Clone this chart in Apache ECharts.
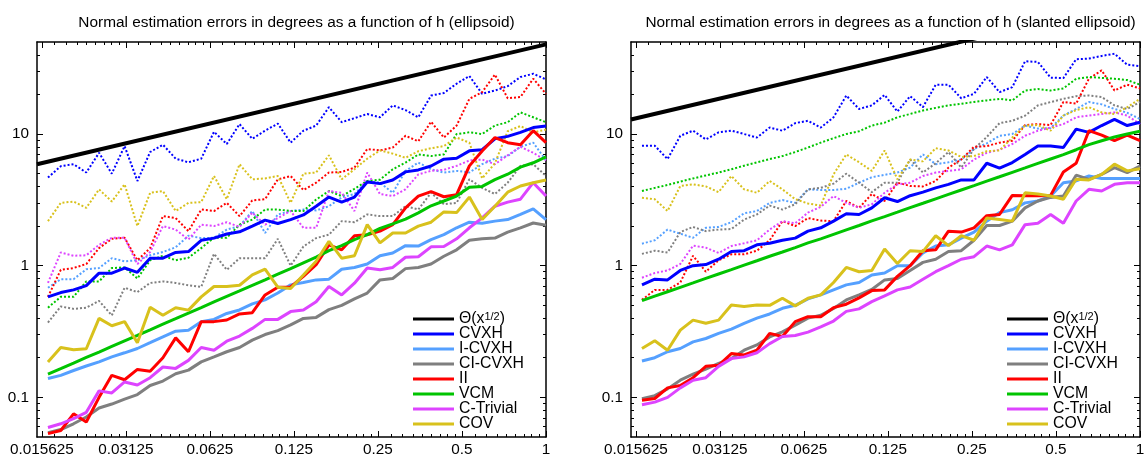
<!DOCTYPE html>
<html><head><meta charset="utf-8">
<script src="https://cdn.jsdelivr.net/npm/echarts@6/dist/echarts.min.js"></script>
<style>html,body{margin:0;padding:0;background:#fff}#c{width:1146px;height:462px}</style>
</head><body><div id="c"></div>
<script>
// ---------- data ----------
const H = [0.01642, 0.01825, 0.02028, 0.02253, 0.02503, 0.02781, 0.03090, 0.03434, 0.03815, 0.04239,
  0.04710, 0.05233, 0.05815, 0.06461, 0.07179, 0.07977, 0.08863, 0.09848, 0.1094, 0.1216,
  0.1351, 0.1501, 0.1668, 0.1853, 0.2059, 0.2288, 0.2542, 0.2824, 0.3138, 0.3487,
  0.3874, 0.4305, 0.4783, 0.5314, 0.5905, 0.6561, 0.729, 0.81, 0.9, 1];
const X_TICKS = [0.015625, 0.03125, 0.0625, 0.125, 0.25, 0.5, 1];
const Y_TICKS = [0.1, 1, 10];
const NAMES = ['CVXH', 'I-CVXH', 'CI-CVXH', 'II', 'VCM', 'C-Trivial', 'COV'];
const COLORS = ['#0000ff', '#55a0ff', '#7f7f7f', '#ff0000', '#00c400', '#dd44ff', '#d8c11c'];
const TITLES = ['Normal estimation errors in degrees as a function of h (ellipsoid)',
  'Normal estimation errors in degrees as a function of h (slanted ellipsoid)'];
const THETA_X = [0.015, 1];
const THETA_LEFT = [5.9, 48];
const THETA_RIGHT = [12.9, 105];

// left panel (ellipsoid), solid lines
const L_CVXH = [0.58, 0.625, 0.655, 0.706, 0.878, 0.878, 0.96, 0.89, 1.14, 1.14, 1.26, 1.28, 1.56, 1.62, 1.74, 1.81, 2.0, 2.22, 2.09, 2.24, 2.43, 2.83, 3.32, 3.04, 3.32, 4.32, 4.2, 4.48, 5.16, 5.34, 5.72, 6.44, 6.55, 7.45, 7.6, 9.2, 9.6, 10.3, 11.2, 11.5];
const L_ICVXH = [0.139, 0.147, 0.16, 0.173, 0.186, 0.203, 0.218, 0.235, 0.26, 0.288, 0.318, 0.324, 0.376, 0.391, 0.434, 0.461, 0.513, 0.55, 0.62, 0.715, 0.745, 0.78, 0.79, 0.94, 0.97, 1.03, 1.19, 1.25, 1.42, 1.41, 1.58, 1.72, 1.94, 2.14, 2.1, 2.18, 2.24, 2.45, 2.7, 2.24];
const L_CICVXH = [0.054, 0.057, 0.063, 0.071, 0.083, 0.089, 0.097, 0.105, 0.123, 0.133, 0.151, 0.161, 0.186, 0.203, 0.222, 0.239, 0.272, 0.3, 0.321, 0.355, 0.398, 0.405, 0.464, 0.5, 0.56, 0.62, 0.78, 0.8, 0.95, 0.97, 1.03, 1.18, 1.32, 1.56, 1.6, 1.62, 1.8, 1.94, 2.11, 2.03];
const L_II = [0.053, 0.056, 0.075, 0.065, 0.1, 0.147, 0.136, 0.163, 0.158, 0.2, 0.283, 0.222, 0.376, 0.376, 0.387, 0.43, 0.44, 0.6, 0.687, 0.69, 0.83, 1.02, 1.44, 1.32, 1.69, 1.72, 1.83, 2.05, 2.75, 3.38, 3.65, 3.34, 3.46, 5.73, 7.44, 9.4, 8.6, 8.3, 10.6, 8.6];
const L_VCM = [0.150, 0.165, 0.182, 0.201, 0.221, 0.244, 0.269, 0.296, 0.326, 0.360, 0.396, 0.437, 0.481, 0.531, 0.585, 0.644, 0.710, 0.782, 0.862, 0.950, 1.05, 1.16, 1.30, 1.42, 1.58, 1.72, 1.92, 2.08, 2.26, 2.52, 2.85, 3.1, 3.38, 3.95, 4.0, 4.5, 4.95, 5.6, 6.05, 6.7];
const L_CTRIV = [0.059, 0.063, 0.069, 0.077, 0.112, 0.108, 0.131, 0.124, 0.141, 0.17, 0.166, 0.191, 0.239, 0.228, 0.267, 0.292, 0.334, 0.391, 0.391, 0.448, 0.46, 0.533, 0.695, 0.6, 0.736, 0.96, 0.93, 0.97, 1.16, 1.17, 1.39, 1.4, 1.6, 1.94, 2.31, 2.83, 3.04, 3.2, 4.27, 3.38];
const L_COV = [0.186, 0.239, 0.23, 0.234, 0.398, 0.35, 0.376, 0.26, 0.483, 0.42, 0.48, 0.46, 0.58, 0.695, 0.695, 0.71, 0.853, 0.94, 0.687, 0.67, 0.85, 1.08, 1.53, 1.14, 1.19, 2.05, 1.49, 1.77, 1.77, 2.0, 2.14, 2.56, 2.53, 3.32, 2.24, 2.83, 3.62, 4.03, 4.27, 4.48];
// left panel, dotted lines
const L_CVXH_D = [4.67, 5.7, 5.9, 5.1, 7.2, 5.0, 8.1, 4.4, 7.3, 8.3, 6.5, 6.1, 6.5, 10.4, 8.4, 11.9, 9.2, 10.6, 12, 8.6, 10.6, 11.6, 16, 12.3, 13.2, 14.2, 13.4, 16.5, 15.2, 13.4, 19.6, 20.5, 24.1, 27.6, 20.2, 21.4, 23.1, 27.1, 28.7, 26];
const L_ICVXH_D = [0.68, 0.79, 0.79, 0.94, 0.96, 1.14, 1.08, 1.1, 1.2, 1.27, 1.38, 1.69, 1.62, 1.63, 1.88, 2.0, 2.6, 1.77, 2.45, 2.6, 2.67, 2.63, 2.83, 3.3, 3.5, 4.4, 4.27, 3.58, 5.25, 6.07, 5.4, 5.1, 5.25, 5.1, 5.9, 6.5, 6.8, 8.0, 8.6, 6.3];
const L_CICVXH_D = [0.37, 0.49, 0.47, 0.48, 0.54, 0.42, 0.68, 0.63, 0.74, 0.76, 0.74, 0.71, 0.69, 1.23, 0.93, 1.14, 1.14, 1.14, 1.6, 1.0, 1.4, 1.62, 1.72, 2.18, 2.14, 2.45, 2.38, 2.38, 2.83, 2.67, 3.58, 2.93, 3.0, 4.53, 3.9, 3.5, 4.27, 5.73, 5.9, 4.8];
const L_II_D = [0.58, 0.93, 0.96, 1.03, 1.36, 1.6, 1.63, 1.1, 1.36, 2.38, 2.3, 1.83, 2.67, 2.6, 3.0, 2.38, 3.13, 3.2, 4.53, 4.8, 3.76, 4.27, 5.1, 5.15, 5.56, 7.7, 7.5, 7.9, 9.7, 8.8, 12.4, 9.4, 11.6, 18.5, 20.8, 28.3, 18.7, 19.1, 26.3, 20.2];
const L_VCM_D = [0.48, 0.58, 0.58, 0.76, 0.76, 0.96, 0.97, 0.8, 1.1, 1.19, 1.1, 1.15, 1.36, 1.63, 1.63, 2.05, 2.24, 2.67, 2.67, 2.6, 2.6, 3.18, 3.69, 3.38, 3.84, 4.4, 4.5, 5.4, 6.07, 7.0, 6.8, 7.0, 10, 10.3, 10, 11.6, 12.3, 14.6, 13.4, 12.3];
const L_CTRIV_D = [0.74, 1.26, 1.19, 1.2, 1.44, 1.63, 1.63, 1.03, 1.27, 2.0, 1.88, 1.58, 2.05, 2.0, 2.14, 1.97, 2.53, 2.05, 2.3, 2.6, 1.94, 1.94, 3.69, 3.58, 2.6, 5.1, 3.5, 3.38, 3.8, 4.94, 5.25, 5.35, 5.73, 6.3, 6.4, 5.9, 6.9, 8.0, 7.2, 6.3];
const L_COV_D = [2.18, 3.0, 3.07, 2.75, 3.8, 3.07, 4.15, 2.0, 3.58, 3.69, 2.6, 3.0, 3.04, 4.8, 3.2, 5.9, 4.53, 4.6, 4.8, 3.0, 5.0, 5.1, 6.9, 4.53, 5.4, 6.5, 7.5, 7.1, 6.6, 7.4, 7.8, 8.1, 9.4, 8.6, 4.6, 6.0, 10.5, 11.5, 10.3, 10.8];

// right panel (slanted ellipsoid), solid lines
const R_CVXH = [0.715, 0.79, 0.78, 0.92, 1.0, 1.02, 1.12, 1.28, 1.3, 1.44, 1.48, 1.56, 1.62, 1.83, 1.94, 2.18, 2.48, 2.45, 2.75, 3.28, 3.07, 3.4, 3.62, 3.9, 4.15, 4.48, 4.48, 6.0, 5.5, 6.07, 7.0, 8.1, 8.1, 7.9, 10.9, 10.3, 11.6, 12.9, 11.6, 12.3];
const R_ICVXH = [0.189, 0.2, 0.222, 0.235, 0.264, 0.28, 0.306, 0.33, 0.365, 0.4, 0.43, 0.475, 0.5, 0.56, 0.6, 0.655, 0.715, 0.745, 0.85, 0.88, 1.0, 1.0, 1.25, 1.41, 1.44, 1.62, 1.8, 2.18, 2.53, 2.66, 3.0, 3.1, 3.38, 4.27, 4.4, 4.8, 4.6, 4.6, 4.6, 4.6];
const R_CICVXH = [0.0975, 0.103, 0.116, 0.135, 0.15, 0.164, 0.181, 0.197, 0.228, 0.25, 0.288, 0.314, 0.354, 0.4, 0.42, 0.474, 0.55, 0.6, 0.66, 0.78, 0.8, 0.92, 1.06, 1.12, 1.28, 1.3, 1.56, 2.02, 2.02, 2.18, 2.75, 3.1, 3.3, 3.38, 4.87, 4.53, 4.94, 5.56, 5.1, 5.7];
const R_II = [0.095, 0.098, 0.118, 0.123, 0.141, 0.172, 0.175, 0.215, 0.21, 0.228, 0.306, 0.29, 0.376, 0.41, 0.41, 0.48, 0.51, 0.57, 0.647, 0.655, 0.83, 1.0, 1.3, 1.32, 1.83, 1.8, 1.94, 2.4, 2.45, 3.42, 3.4, 3.4, 3.42, 5.15, 6.0, 10.6, 9.8, 8.9, 9.8, 8.9];
const R_VCM = [0.543, 0.587, 0.634, 0.685, 0.740, 0.800, 0.865, 0.934, 1.01, 1.09, 1.18, 1.27, 1.37, 1.49, 1.60, 1.73, 1.87, 2.02, 2.19, 2.36, 2.55, 2.76, 2.98, 3.22, 3.48, 3.76, 4.06, 4.39, 4.74, 5.12, 5.53, 5.98, 6.46, 6.98, 7.6, 8.3, 8.9, 9.5, 10.0, 10.5];
const R_CTRIV = [0.088, 0.092, 0.1, 0.118, 0.135, 0.141, 0.172, 0.197, 0.203, 0.218, 0.256, 0.29, 0.295, 0.313, 0.343, 0.38, 0.45, 0.47, 0.533, 0.59, 0.655, 0.69, 0.79, 0.9, 1.0, 1.12, 1.17, 1.41, 1.32, 1.44, 2.05, 2.1, 2.45, 2.1, 3.1, 3.8, 3.69, 4.15, 4.27, 4.27];
const R_COV = [0.235, 0.269, 0.228, 0.324, 0.386, 0.365, 0.386, 0.503, 0.49, 0.503, 0.5, 0.566, 0.495, 0.566, 0.6, 0.745, 0.97, 0.9, 0.92, 1.34, 1.04, 1.3, 1.28, 1.69, 1.42, 1.69, 1.56, 2.3, 2.24, 2.18, 3.58, 3.5, 3.38, 3.2, 4.53, 4.48, 4.94, 5.9, 5.25, 5.45];
// right panel, dotted lines
const R_CVXH_D = [8.15, 8.15, 6.45, 9.7, 10.6, 9.1, 10.3, 10.6, 10, 9.4, 11.2, 10.6, 12.1, 12.6, 11.2, 13.4, 19.6, 15.5, 16.5, 19.8, 14.8, 19.4, 16, 23.7, 23.7, 18.7, 20.2, 27.1, 20.8, 22.7, 35.7, 35.3, 26.8, 26.6, 37, 37.4, 39.2, 40.7, 33.6, 32.8];
const R_ICVXH_D = [1.47, 1.56, 1.88, 1.75, 1.63, 1.94, 1.97, 2.14, 2.5, 2.6, 3.0, 3.15, 3.0, 3.8, 3.76, 3.76, 3.84, 4.27, 4.7, 4.9, 5.1, 5.56, 7.0, 5.9, 6.1, 6.4, 7.7, 8.5, 9.7, 10, 11.6, 11, 11.1, 13.8, 15.5, 17.5, 16.8, 15.5, 14.5, 13.0];
const R_CICVXH_D = [1.23, 1.3, 1.26, 1.8, 1.97, 1.83, 1.88, 1.9, 2.24, 2.45, 2.86, 2.67, 2.93, 3.8, 3.9, 4.2, 5.0, 4.27, 3.62, 4.27, 4.27, 6.4, 5.1, 6.0, 7.3, 5.56, 7.7, 9.5, 12.1, 12.6, 13.8, 16.5, 17.5, 18.5, 19.4, 19.6, 19.1, 16.5, 15.5, 17.5];
const R_II_D = [0.55, 0.655, 0.655, 0.745, 1.19, 0.9, 1.1, 1.22, 1.22, 1.3, 1.56, 2.18, 2.0, 2.3, 2.2, 2.18, 3.1, 2.75, 3.5, 3.1, 4.27, 4.03, 4.0, 4.4, 5.56, 6.4, 8.0, 8.1, 8.6, 8.9, 11.7, 11.9, 11.7, 17.5, 17, 26.3, 30.5, 21.4, 23.7, 22.2];
const R_VCM_D = [3.69, 3.9, 4.1, 4.35, 4.6, 4.85, 5.1, 5.4, 5.75, 6.1, 6.45, 6.8, 7.3, 7.9, 8.6, 9.3, 10, 10.5, 11.6, 12.2, 13.4, 14.2, 15.1, 15.8, 16.5, 17, 17.5, 18, 18.5, 18, 21.4, 22, 21.4, 22.2, 26.3, 27.1, 26.7, 26.3, 25.7, 23.7];
const R_CTRIV_D = [0.81, 0.88, 0.92, 1.03, 1.42, 1.37, 1.25, 1.41, 1.48, 1.56, 1.88, 2.18, 2.1, 2.53, 2.8, 3.38, 3.0, 2.75, 2.93, 3.58, 4.15, 4.27, 4.8, 5.1, 5.25, 5.4, 6.4, 7.2, 7.6, 8.4, 9.7, 10.6, 11.2, 11.9, 13.4, 13.8, 14.2, 14.6, 13.8, 11.9];
const R_COV_D = [3.28, 3.2, 2.6, 4.03, 4.15, 4.0, 3.62, 4.8, 3.8, 3.58, 4.4, 3.8, 3.2, 2.97, 2.86, 4.94, 7.0, 6.1, 5.25, 7.5, 4.53, 6.4, 6.2, 7.8, 7.5, 6.7, 6.8, 7.4, 7.5, 9.4, 11.6, 11.7, 10.6, 13.8, 15.2, 16, 14.6, 14.2, 16, 18.5];

// ---------- build ----------
const FONT = '"Liberation Sans", Arial, Helvetica, sans-serif';
const PANELS = [
  { solid: [L_CVXH, L_ICVXH, L_CICVXH, L_II, L_VCM, L_CTRIV, L_COV],
    dotted: [L_CVXH_D, L_ICVXH_D, L_CICVXH_D, L_II_D, L_VCM_D, L_CTRIV_D, L_COV_D], theta: THETA_LEFT },
  { solid: [R_CVXH, R_ICVXH, R_CICVXH, R_II, R_VCM, R_CTRIV, R_COV],
    dotted: [R_CVXH_D, R_ICVXH_D, R_CICVXH_D, R_II_D, R_VCM_D, R_CTRIV_D, R_COV_D], theta: THETA_RIGHT }
];
const GRID_LEFT = [37, 631];
const GRID_TOP = 42, GRID_W = 509, GRID_H = 395;

const X_MINOR = [];
[0.0078125, 0.015625, 0.03125, 0.0625, 0.125, 0.25, 0.5].forEach(m => {
  for (let j = 1; j <= 8; j++) { const v = m * (1 + j / 9); if (v > 0.015 && v < 1) X_MINOR.push(v); }
});
const Y_MINOR = [];
[0.01, 0.1, 1, 10].forEach(d => {
  for (let j = 2; j <= 9; j++) { const v = d * j; if (v > 0.05 && v < 50) Y_MINOR.push(v); }
});

const lbl = { fontSize: 15.3, color: '#000', fontFamily: FONT };
function mkX(gi, pos, major) {
  return {
    type: 'log', logBase: 2, min: 0.015, max: 1, gridIndex: gi, position: pos, silent: true,
    splitLine: { show: false },
    axisLine: { show: major, onZero: false, lineStyle: { color: '#000', width: 1.5 } },
    axisTick: { show: true, inside: true, length: major ? 6 : 3, customValues: major ? X_TICKS : X_MINOR,
      lineStyle: { color: '#000', width: 1 } },
    axisLabel: (major && pos === 'bottom') ?
      Object.assign({ show: true, customValues: X_TICKS, margin: 5, formatter: v => String(v) }, lbl) :
      { show: false }
  };
}
function mkY(gi, pos, major) {
  return {
    type: 'log', logBase: 10, min: 0.05, max: 50, gridIndex: gi, position: pos, silent: true,
    splitLine: { show: false },
    axisLine: { show: major, onZero: false, lineStyle: { color: '#000', width: 1.5 } },
    axisTick: { show: true, inside: true, length: major ? 6 : 3, customValues: major ? Y_TICKS : Y_MINOR,
      lineStyle: { color: '#000', width: 1 } },
    axisLabel: (major && pos === 'left') ?
      Object.assign({ show: true, customValues: Y_TICKS, margin: 8, formatter: v => String(v) }, lbl) :
      { show: false }
  };
}

const grid = [], xAxis = [], yAxis = [], series = [], title = [], legend = [];
PANELS.forEach((p, gi) => {
  grid.push({ left: GRID_LEFT[gi], top: GRID_TOP, width: GRID_W, height: GRID_H, containLabel: false, outerBoundsMode: 'none' });
  xAxis.push(mkX(gi, 'bottom', true), mkX(gi, 'bottom', false), mkX(gi, 'top', true), mkX(gi, 'top', false));
  yAxis.push(mkY(gi, 'left', true), mkY(gi, 'left', false), mkY(gi, 'right', true), mkY(gi, 'right', false));
  const ax = gi * 4;
  title.push({ text: TITLES[gi], left: GRID_LEFT[gi] + GRID_W / 2, top: 10, textAlign: 'center',
    textStyle: { fontSize: 15.4, fontWeight: 'normal', color: '#000', fontFamily: FONT } });
  p.dotted.forEach((arr, i) => series.push({
    type: 'line', name: NAMES[i] + ' (dotted)', xAxisIndex: ax, yAxisIndex: ax, symbol: 'none',
    data: H.map((h, k) => [h, arr[k]]), z: 2, silent: true, animation: false,
    itemStyle: { color: COLORS[i] }, lineStyle: { color: COLORS[i], width: 2, type: [2, 2] }
  }));
  p.solid.forEach((arr, i) => series.push({
    type: 'line', name: NAMES[i], xAxisIndex: ax, yAxisIndex: ax, symbol: 'none',
    data: H.map((h, k) => [h, arr[k]]), z: 3, silent: true, animation: false,
    itemStyle: { color: COLORS[i] }, lineStyle: { color: COLORS[i], width: 3 }
  }));
  series.push({
    type: 'line', name: 'Theta', xAxisIndex: ax, yAxisIndex: ax, symbol: 'none',
    data: THETA_X.map((x, k) => [x, p.theta[k]]), z: 4, silent: true, animation: false, clip: true,
    itemStyle: { color: '#000' }, lineStyle: { color: '#000', width: 4 }
  });
  legend.push({
    data: ['Theta'].concat(NAMES), orient: 'vertical', left: GRID_LEFT[gi] + 376, top: 311,
    itemWidth: 41, itemHeight: 3, icon: 'rect', itemGap: -1.0, selectedMode: false, padding: 0,
    formatter: n => n === 'Theta' ? '{n|Θ(x}{s|1/2}{n|)}' : '{n|' + n + '}',
    textStyle: { fontSize: 15.8, color: '#000', fontFamily: FONT, lineHeight: 15,
      rich: { n: { fontSize: 15.8, lineHeight: 15, fontFamily: FONT, color: '#000' },
              s: { fontSize: 11, lineHeight: 9, verticalAlign: 'top', fontFamily: FONT, color: '#000' } } }
  });
});

const chart = echarts.init(document.getElementById('c'), null, { renderer: 'canvas' });
chart.setOption({ animation: false, backgroundColor: '#fff', title, legend, grid, xAxis, yAxis, series });
</script>
</body></html>
